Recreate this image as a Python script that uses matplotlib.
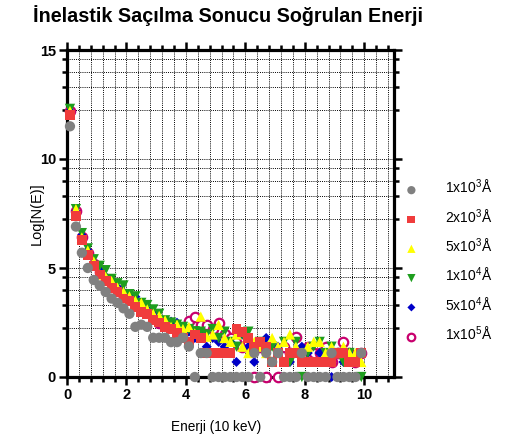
import numpy as np
import matplotlib
matplotlib.use('Agg')
import matplotlib.pyplot as plt
from matplotlib.ticker import MultipleLocator, FixedLocator

plt.rcParams['font.family'] = ['Liberation Sans', 'DejaVu Sans']
plt.rcParams['mathtext.default'] = 'regular'

# energy bins (units of 10 keV)
energy = [0.1, 0.3, 0.5, 0.7, 0.9, 1.1, 1.3, 1.5, 1.7, 1.9,
          2.1, 2.3, 2.5, 2.7, 2.9, 3.1, 3.3, 3.5, 3.7, 3.9,
          4.1, 4.3, 4.5, 4.7, 4.9, 5.1, 5.3, 5.5, 5.7, 5.9,
          6.1, 6.3, 6.5, 6.7, 6.9, 7.1, 7.3, 7.5, 7.7, 7.9,
          8.1, 8.3, 8.5, 8.7, 8.9, 9.1, 9.3, 9.5, 9.7, 9.9]

# Log[N(E)] for each thickness
logn_1e3 = [11.5, 6.9, 5.7, 5.0, 4.45, 4.2, 3.9, 3.6, 3.4, 3.15,
            2.9, 2.3, 2.4, 2.3, 1.8, 1.8, 1.8, 1.6, 1.6, 1.8,
            1.4, 0.0, 1.10, 1.10, 0.0, 0.0, 0.0, 0.0, 0.0, 0.0,
            0.0, 1.10, 0.0, 1.10, 0.69, 1.10, 0.0, 0.0, 0.0, 1.10,
            0.0, 0.0, 0.0, 0.0, 1.10, 0.0, 0.0, 0.0, 0.0, 1.10]
logn_2e3 = [12.0, 7.4, 6.3, 5.6, 5.1, 4.7, 4.4, 4.1, 3.9, 3.6,
            3.5, 3.2, 3.0, 2.9, 2.6, 2.5, 2.3, 2.2, 2.0, 1.8,
            1.6, 1.95, 1.79, 1.10, 1.10, 1.10, 1.10, 1.10, 2.2, 2.08,
            1.79, 1.39, 1.61, 1.39, 0.69, 1.10, 0.69, 1.10, 1.10, 0.69,
            0.69, 0.69, 0.69, 0.69, 0.69, 1.10, 1.10, 0.69, 0.69, 1.10]
logn_5e3 = [12.2, 7.7, 6.4, 5.8, 5.3, 4.7, 4.6, 4.4, 4.1, 3.9,
            3.7, 3.5, 3.4, 3.1, 2.9, 2.8, 2.6, 2.3, 2.4, 2.2,
            2.3, 2.0, 2.77, 1.85, 1.95, 2.39, 1.79, 1.61, 1.95, 1.39,
            1.10, 1.61, 1.39, 1.10, 1.79, 1.39, 1.61, 1.95, 1.39, 1.10,
            1.39, 1.61, 1.61, 1.10, 1.39, 1.10, 1.39, 1.10, 1.10, 0.69]
logn_1e4 = [12.3, 7.7, 6.6, 5.9, 5.4, 5.1, 4.9, 4.5, 4.3, 4.2,
            3.8, 3.7, 3.4, 3.3, 3.1, 2.9, 2.6, 2.5, 2.4, 2.3,
            2.2, 2.1, 2.08, 1.95, 2.2, 1.79, 2.08, 1.61, 1.39, 1.95,
            2.08, 1.39, 1.61, 1.10, 1.39, 1.10, 1.61, 0.69, 1.61, 0.0,
            1.10, 1.39, 1.61, 1.10, 1.39, 1.10, 0.69, 1.10, 0.69, 0.0]
logn_5e4 = [12.2, 7.6, 6.5, 5.8, 5.2, 4.9, 4.6, 4.3, 4.1, 3.9,
            3.7, 3.68, 3.3, 3.1, 2.9, 2.7, 2.5, 2.54, 2.49, 2.2,
            2.08, 1.79, 1.95, 1.39, 1.79, 1.61, 1.39, 1.61, 0.69, 1.95,
            1.39, 0.69, 1.61, 1.79, 0.69, 1.39, 0.69, 0.69, 1.10, 1.39,
            1.10, 0.0, 1.10, 0.69, 0.0, 1.10, 0.69, 1.10, 0.69, 1.10]
logn_1e5 = [12.2, 7.6, 6.4, 5.7, 5.2, 4.8, 4.5, 4.3, 4.0, 3.8,
            3.6, 3.4, 3.2, 3.0, 2.8, 2.5, 2.5, 2.4, 2.3, 2.2,
            2.56, 2.77, 2.4, 2.4, 2.2, 2.48, 1.95, 1.79, 1.61, 1.39,
            1.61, 0.0, 1.39, 0.0, 1.10, 0.0, 1.39, 1.10, 1.85, 1.10,
            1.39, 1.10, 1.10, 1.39, 0.69, 1.10, 1.61, 1.10, 0.69, 1.10]

series_labels = ['1x10$^{3}$Å', '2x10$^{3}$Å', '5x10$^{3}$Å',
                 '1x10$^{4}$Å', '5x10$^{4}$Å', '1x10$^{5}$Å']

# minor y positions used by the original axis (per 5-unit block)
y_minor = [2.25, 3.3, 4.0, 4.6, 7.25, 8.3, 9.0, 9.6, 12.25, 13.3, 14.0, 14.6]

fig = plt.figure(figsize=(5.29, 4.41), dpi=100)
ax = fig.add_axes([67 / 529, 64 / 441, 327 / 529, 327 / 441])

styles = [
    dict(marker='o', color='#808080', s=55),
    dict(marker='s', color='#F03C3C', s=50),
    dict(marker='^', color='#FFFF00', s=55),
    dict(marker='v', color='#1E9E1E', s=55),
    dict(marker='D', color='#0000C8', s=26),
    dict(marker='o', color='#C8006E', s=46),
]
data = [logn_1e3, logn_2e3, logn_5e3, logn_1e4, logn_5e4, logn_1e5]

handles = []
# later thicknesses are drawn underneath
for i, (y, st, lab) in enumerate(zip(data, styles, series_labels)):
    if i == 5:
        h = ax.scatter(energy, y, marker='o', facecolors='white',
                       edgecolors=st['color'], s=st['s'], linewidths=1.6,
                       label=lab, zorder=10 - i, clip_on=False)
    else:
        h = ax.scatter(energy, y, marker=st['marker'], c=st['color'],
                       s=st['s'], edgecolors='none', label=lab,
                       zorder=10 - i, clip_on=False)
    handles.append(h)

ax.set_xlim(0, 11)
ax.set_ylim(0, 15)
ax.xaxis.set_major_locator(FixedLocator([0, 2, 4, 6, 8, 10]))
ax.xaxis.set_minor_locator(MultipleLocator(0.4))
ax.yaxis.set_major_locator(FixedLocator([0, 5, 10, 15]))
ax.yaxis.set_minor_locator(FixedLocator(y_minor))

ax.grid(True, which='both', color='black', linestyle=(0, (1, 1.2)),
        linewidth=0.7, zorder=0)
ax.set_axisbelow(True)

for sp in ax.spines.values():
    sp.set_linewidth(2.3)
ax.tick_params(which='both', direction='out', width=1.8, top=True, right=True,
               labeltop=False, labelright=False)
ax.tick_params(which='major', length=6)
ax.tick_params(which='minor', length=3.5)
ax.tick_params(axis='both', labelsize=10.5, pad=2)
ax.set_xticklabels(['0', '2', '4', '6', '8', '10'], fontweight='bold')
ax.set_yticklabels(['0', '5', '10', '15'], fontweight='bold')

ax.set_xlabel('Enerji (10 keV)', fontsize=9.8)
ax.xaxis.set_label_coords(5 / 11, -0.13)
ax.set_ylabel('Log[N(E)]', fontsize=10.5)
ax.yaxis.set_label_coords(-0.07, 0.5)

fig.text(33 / 529, 1 - 16 / 441, 'İnelastik Saçılma Sonucu Soğrulan Enerji',
         fontsize=14.2, fontweight='bold', ha='left', va='center')

fig.legend(handles, series_labels, loc='center left',
           bbox_to_anchor=(385 / 529, 1 - 261 / 441), frameon=False,
           fontsize=10, labelspacing=0.8, handletextpad=1.4,
           markerscale=0.8, borderpad=0.4)

fig.savefig('out.png', dpi=100)
